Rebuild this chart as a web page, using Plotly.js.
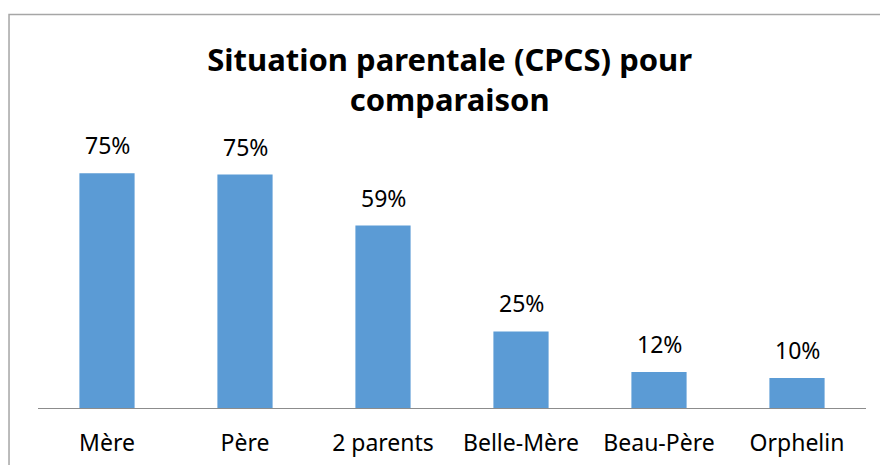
<!DOCTYPE html>
<html>
<head>
<meta charset="utf-8">
<script src="https://cdn.plot.ly/plotly-3.0.1.min.js"></script>
<style>html,body{margin:0;padding:0;background:#fff;}#chart{width:880px;height:465px;}</style>
</head>
<body>
<div id="chart"></div>
<script>
const categories = ['Mère', 'Père', '2 parents', 'Belle-Mère', 'Beau-Père', 'Orphelin'];
const values = [0.754, 0.750, 0.586, 0.246, 0.116, 0.096];
const labels = ['75%', '75%', '59%', '25%', '12%', '10%'];

const FONT = '"Noto Sans", "Open Sans", sans-serif';

const trace = {
  type: 'bar',
  x: categories,
  y: values,
  width: 0.4,
  marker: {color: '#5B9BD5'},
  hoverinfo: 'skip'
};

const annotations = categories.map((c, i) => ({
  x: c, y: values[i], xref: 'x', yref: 'y',
  text: labels[i], showarrow: false,
  yanchor: 'bottom', xanchor: 'center', yshift: 10,
  font: {family: FONT, size: 23, color: '#000'}
}));

const layout = {
  width: 880, height: 465,
  margin: {l: 38, r: 14, t: 159, b: 57},
  paper_bgcolor: '#fff', plot_bgcolor: '#fff',
  title: {
    text: '<b>Situation parentale (CPCS) pour<br>comparaison</b>',
    font: {family: FONT, size: 31, color: '#000'},
    x: 0.511, xanchor: 'center',
    y: 0.848, yanchor: 'top', yref: 'container'
  },
  xaxis: {
    showline: true, linecolor: '#8C8C8C', linewidth: 1,
    ticks: '', ticklabelstandoff: 14,
    tickfont: {family: FONT, size: 23, color: '#000'},
    showgrid: false, zeroline: false, fixedrange: true
  },
  yaxis: {
    range: [0, 0.8], visible: false, showgrid: false, zeroline: false
  },
  showlegend: false,
  annotations: annotations,
  shapes: [{
    type: 'rect', xref: 'paper', yref: 'paper',
    x0: -0.0350, x1: 1.2, y0: -0.6, y1: 1.580,
    line: {color: '#A6A6A6', width: 1.5}, layer: 'below'
  }]
};

Plotly.newPlot('chart', [trace], layout, {displayModeBar: false, staticPlot: true});
</script>
</body>
</html>
